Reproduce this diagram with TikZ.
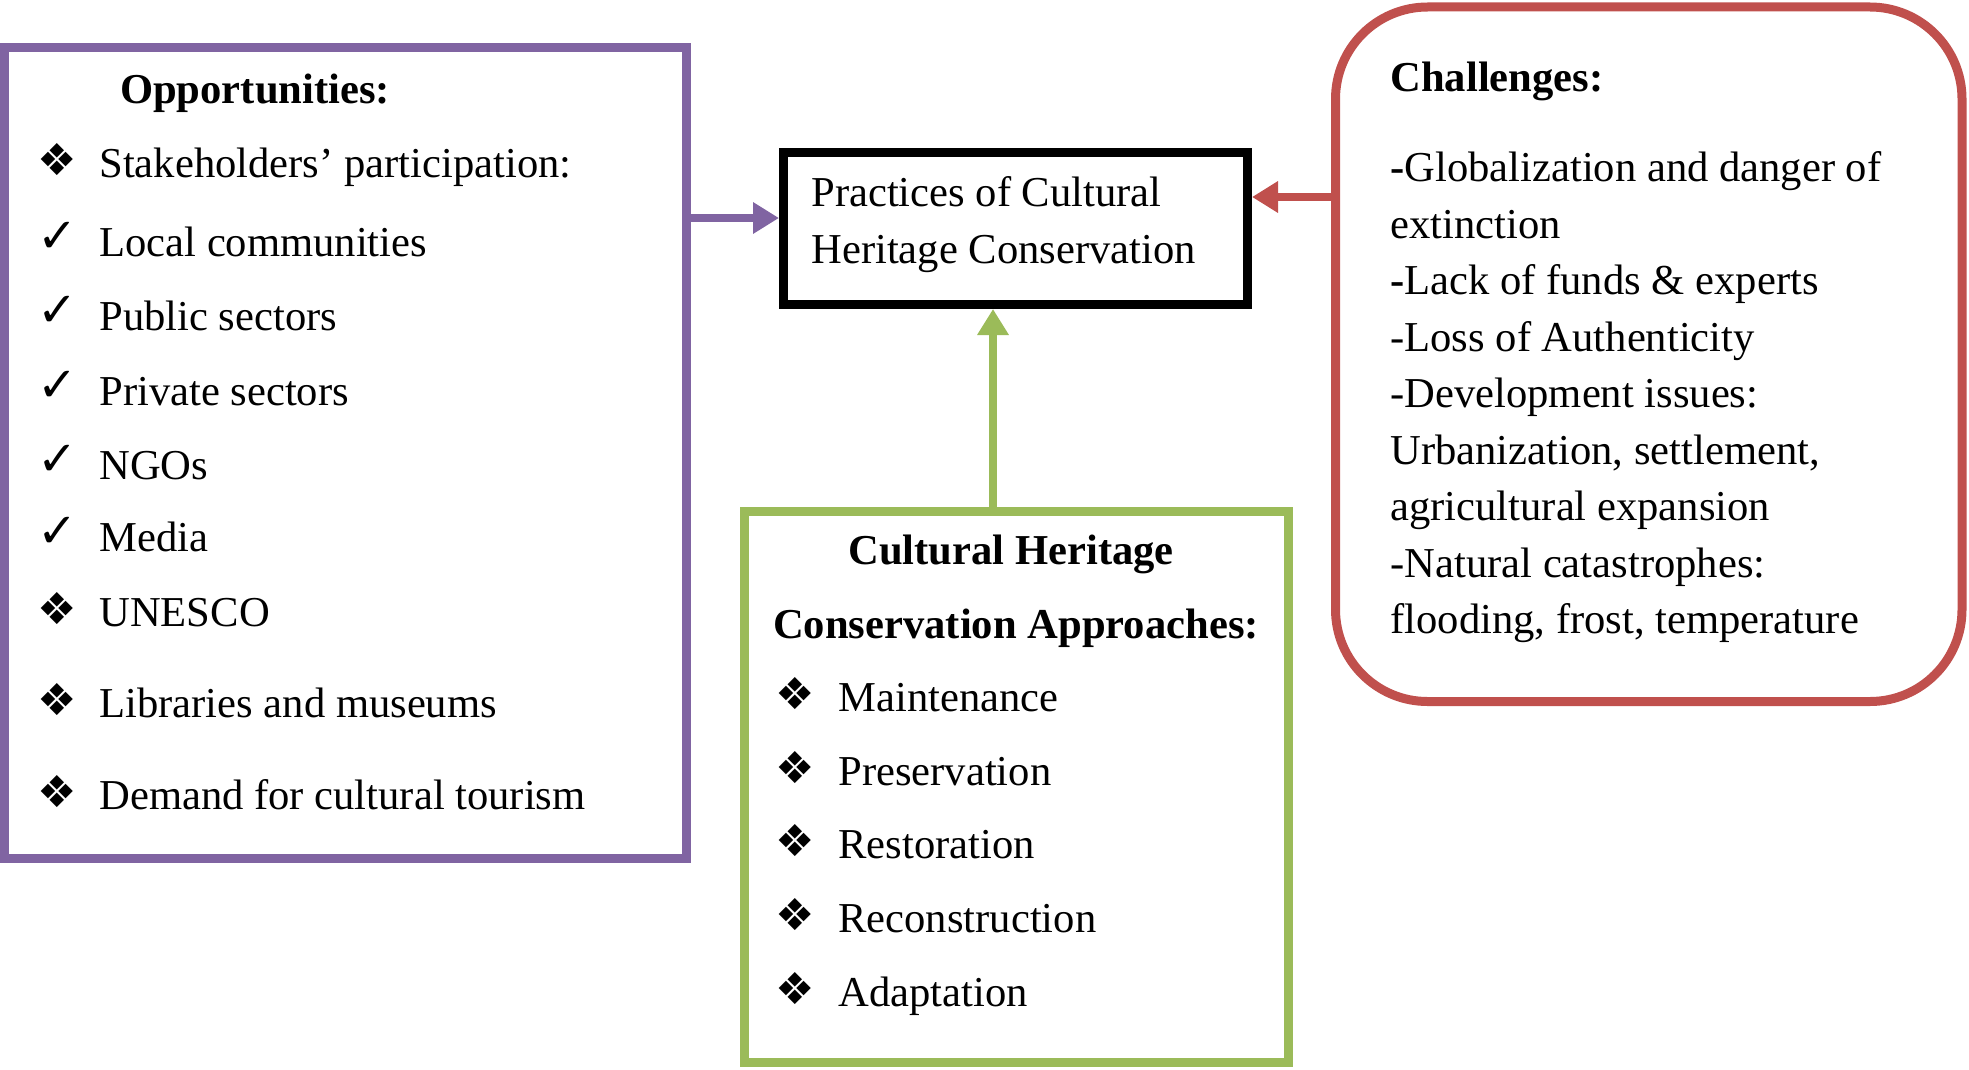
\documentclass[tikz,border=0pt]{standalone}
\usepackage{fontspec}
\setmainfont{Liberation Serif}
\newfontfamily\symfont{DejaVu Sans}
\usetikzlibrary{arrows.meta,fit}
\definecolor{oppcol}{HTML}{8064A2}
\definecolor{chalcol}{HTML}{C0504D}
\definecolor{appcol}{HTML}{9BBB59}
\begin{document}
\begin{tikzpicture}[x=0.5pt,y=-0.5pt,
 txt/.style={anchor=base west, inner sep=0, font=\fontsize{21.3}{25}\selectfont},
 ttl/.style={anchor=base, inner sep=0, font=\fontsize{21.3}{25}\selectfont\bfseries},
 ttlw/.style={anchor=base west, inner sep=0, font=\fontsize{21.3}{25}\selectfont\bfseries},
 bul/.style={anchor=base west, inner sep=0, font=\fontsize{22}{26}\symfont},
 chk/.style={anchor=base west, inner sep=0, font=\fontsize{24}{28}\symfont},
 box/.style={draw, line width=4.5pt, inner sep=0},
 conn/.style={line width=4pt, -{Triangle[length=13pt,width=15pt]}},
]
\useasboundingbox (0,0) rectangle (1969,1070);

% boxes
\node[box, draw=oppcol, fit={(4.5,47.5) (686.5,858.5)}] (opp) {};
\node[box, draw=black, fit={(783.5,152.5) (1247.5,304.5)}] (prac) {};
\node[box, draw=chalcol, rounded corners=46pt, fit={(1335.5,7) (1962,701.5)}] (chal) {};
\node[box, draw=appcol, fit={(744.5,511.5) (1288.5,1062.5)}] (appr) {};

% connectors
\draw[conn, draw=oppcol, fill=oppcol] (opp.east |- 0,218) -- (prac.west |- 0,218);
\draw[conn, draw=chalcol, fill=chalcol] (chal.west |- 0,197) -- (prac.east |- 0,197);
\draw[conn, draw=appcol, fill=appcol] (appr.north -| 993,0) -- (prac.south -| 993,0);

% centre text
\node[txt] (p1) at (811,206) {Practices of Cultural};
\node[txt] (p2) at (811,263) {Heritage Conservation};

% opportunities
\node[ttl] (ot) at (255,104) {Opportunities:};
\node[bul] (ob1) at (37,175) {❖};  \node[txt] (o1) at (99,177) {Stakeholders’ participation:};
\node[chk] (ob2) at (37,252) {✓};  \node[txt] (o2) at (99,256) {Local communities};
\node[chk] (ob3) at (37,326) {✓};  \node[txt] (o3) at (99,330) {Public sectors};
\node[chk] (ob4) at (37,401) {✓};  \node[txt] (o4) at (99,405) {Private sectors};
\node[chk] (ob5) at (37,475) {✓};  \node[txt] (o5) at (99,479) {NGOs};
\node[chk] (ob6) at (37,547) {✓};  \node[txt] (o6) at (99,551) {Media};
\node[bul] (ob7) at (37,624) {❖};  \node[txt] (o7) at (99,626) {UNESCO};
\node[bul] (ob8) at (37,715) {❖};  \node[txt] (o8) at (99,717) {Libraries and museums};
\node[bul] (ob9) at (37,807) {❖};  \node[txt] (o9) at (99,809) {Demand for cultural tourism};

% challenges
\node[ttlw] (ct) at (1390,91) {Challenges:};
\node[txt] (c1) at (1390,181) {\textbf{-}Globalization and danger of};
\node[txt] (c2) at (1390,238) {extinction};
\node[txt] (c3) at (1390,294) {\textbf{-}Lack of funds \& experts};
\node[txt] (c4) at (1390,351) {-Loss of Authenticity};
\node[txt] (c5) at (1390,407) {-Development issues:};
\node[txt] (c6) at (1390,464) {Urbanization, settlement,};
\node[txt] (c7) at (1390,520) {agricultural expansion};
\node[txt] (c8) at (1390,577) {-Natural catastrophes:};
\node[txt] (c9) at (1390,633) {flooding, frost, temperature};

% approaches
\node[ttl] (at1) at (1011,564) {Cultural Heritage};
\node[ttl] (at2) at (1016,638) {Conservation Approaches:};
\node[bul] (ab1) at (775,709) {❖};  \node[txt] (a1) at (838,711) {Maintenance};
\node[bul] (ab2) at (775,783) {❖};  \node[txt] (a2) at (838,785) {Preservation};
\node[bul] (ab3) at (775,856) {❖};  \node[txt] (a3) at (838,858) {Restoration};
\node[bul] (ab4) at (775,930) {❖};  \node[txt] (a4) at (838,932) {Reconstruction};
\node[bul] (ab5) at (775,1004) {❖}; \node[txt] (a5) at (838,1006) {Adaptation};
\end{tikzpicture}
\end{document}
